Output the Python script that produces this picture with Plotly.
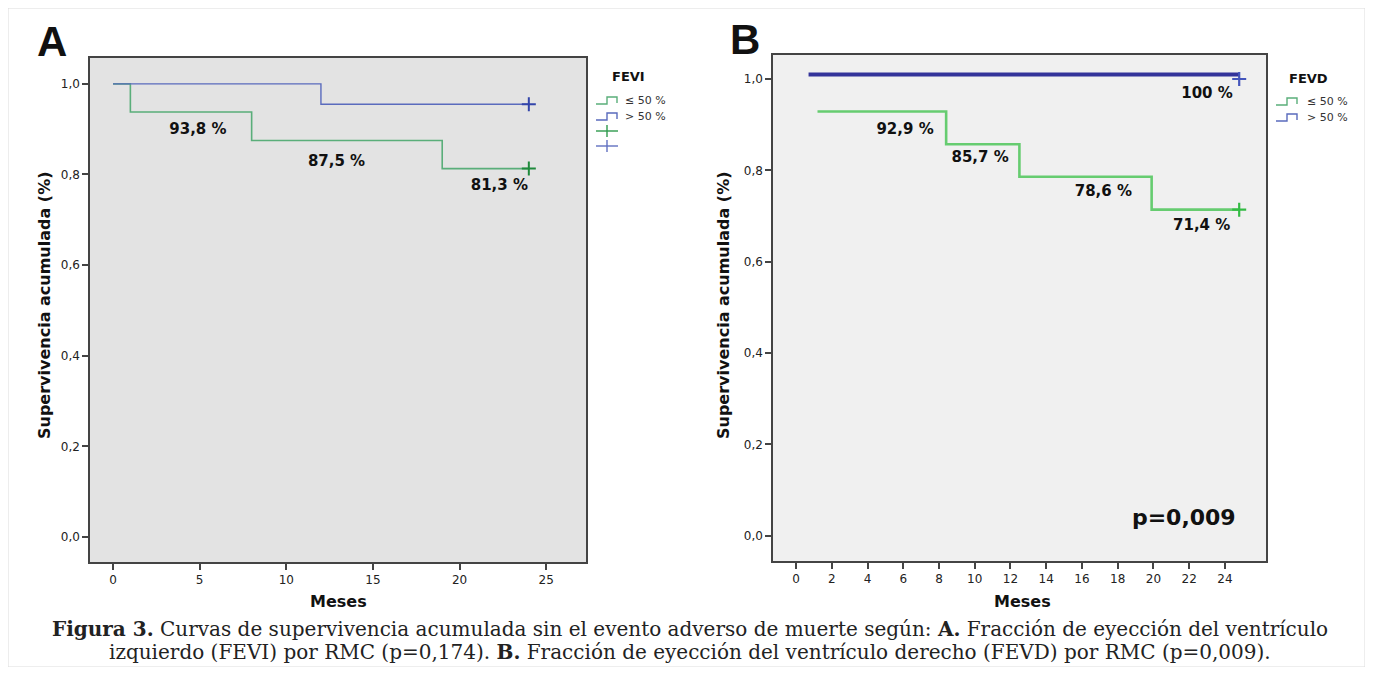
import plotly.graph_objects as go

OFF = 8
W, H = 1373 - 2 * OFF, 675 - 2 * OFF

# ---- Data: Panel A (FEVI) ----
a_green_x = [0, 1, 8, 19, 24]
a_green_y = [1.0, 0.938, 0.875, 0.813, 0.813]
a_blue_x = [0, 12, 24]
a_blue_y = [1.0, 0.955, 0.955]
a_labels = ["93,8 %", "87,5 %", "81,3 %"]
a_label_x = [4.9, 12.9, 22.3]
a_label_y = [0.898, 0.828, 0.775]

# ---- Data: Panel B (FEVD) ----
b_green_x = [1.2, 8.4, 12.5, 19.9, 24.8]
b_green_y = [0.929, 0.857, 0.786, 0.714, 0.714]
b_blue_x = [0.7, 24.8]
b_blue_y = [1.01, 1.01]
b_labels = ["100 %", "92,9 %", "85,7 %", "78,6 %", "71,4 %"]
b_label_x = [23.0, 6.1, 10.3, 17.2, 22.7]
b_label_y = [0.967, 0.888, 0.827, 0.753, 0.678]

y_ticks = [0.0, 0.2, 0.4, 0.6, 0.8, 1.0]
y_ticktext = ["0,0", "0,2", "0,4", "0,6", "0,8", "1,0"]
a_xticks = [0, 5, 10, 15, 20, 25]
b_xticks = list(range(0, 25, 2))


def px_x(p):
    return (p - OFF) / W


def px_y(p):
    return 1 - (p - OFF) / H


fig = go.Figure()

GREEN_A, BLUE_A = "#5aae7a", "#5a6bbd"
GREEN_B, BLUE_B = "#66cc70", "#33339a"

fig.add_trace(go.Scatter(x=a_green_x, y=a_green_y, mode="lines", line=dict(color=GREEN_A, width=1.6, shape="hv"),
                         xaxis="x", yaxis="y", showlegend=False, hoverinfo="skip"))
fig.add_trace(go.Scatter(x=a_blue_x, y=a_blue_y, mode="lines", line=dict(color=BLUE_A, width=1.4, shape="hv"),
                         xaxis="x", yaxis="y", showlegend=False, hoverinfo="skip"))
fig.add_trace(go.Scatter(x=[a_green_x[-1]], y=[a_green_y[-1]], mode="markers",
                         marker=dict(symbol="cross-thin", size=10, line=dict(color="#1f8a3c", width=2)),
                         xaxis="x", yaxis="y", showlegend=False))
fig.add_trace(go.Scatter(x=[a_blue_x[-1]], y=[a_blue_y[-1]], mode="markers",
                         marker=dict(symbol="cross-thin", size=10, line=dict(color="#3345aa", width=2)),
                         xaxis="x", yaxis="y", showlegend=False))
fig.add_trace(go.Scatter(x=a_label_x, y=a_label_y, mode="text", text=[f"<b>{t}</b>" for t in a_labels],
                         textfont=dict(family="DejaVu Sans", size=15, color="#111"),
                         xaxis="x", yaxis="y", showlegend=False))

fig.add_trace(go.Scatter(x=b_green_x, y=b_green_y, mode="lines", line=dict(color=GREEN_B, width=2.6, shape="hv"),
                         xaxis="x2", yaxis="y2", showlegend=False, hoverinfo="skip"))
fig.add_trace(go.Scatter(x=b_blue_x, y=b_blue_y, mode="lines", line=dict(color=BLUE_B, width=4, shape="hv"),
                         xaxis="x2", yaxis="y2", showlegend=False, hoverinfo="skip"))
fig.add_trace(go.Scatter(x=[b_green_x[-1]], y=[b_green_y[-1]], mode="markers",
                         marker=dict(symbol="cross-thin", size=10, line=dict(color="#33bb44", width=2.2)),
                         xaxis="x2", yaxis="y2", showlegend=False))
fig.add_trace(go.Scatter(x=[b_blue_x[-1]], y=[1.0], mode="markers",
                         marker=dict(symbol="cross-thin", size=10, line=dict(color="#4455bb", width=2.2)),
                         xaxis="x2", yaxis="y2", showlegend=False))
fig.add_trace(go.Scatter(x=b_label_x, y=b_label_y, mode="text", text=[f"<b>{t}</b>" for t in b_labels],
                         textfont=dict(family="DejaVu Sans", size=15, color="#111"),
                         xaxis="x2", yaxis="y2", showlegend=False))
fig.add_trace(go.Scatter(x=[21.7], y=[0.035], mode="text", text=["<b>p=0,009</b>"],
                         textfont=dict(family="DejaVu Sans", size=22, color="#111"),
                         xaxis="x2", yaxis="y2", showlegend=False))

axis_common = dict(showgrid=False, zeroline=False, showline=True, mirror=True, linecolor="#444", linewidth=1.5,
                   ticks="outside", ticklen=6, tickwidth=1.5, tickcolor="#444",
                   tickfont=dict(family="DejaVu Sans", size=12, color="#222"))

fig.update_layout(
    width=W, height=H, margin=dict(l=0, r=0, t=0, b=0),
    paper_bgcolor="white", plot_bgcolor="#e3e3e3",
    xaxis=dict(domain=[px_x(90), px_x(586)], range=[-1.33, 27.3], tickvals=a_xticks,
               ticktext=[str(v) for v in a_xticks], anchor="y", **axis_common),
    yaxis=dict(domain=[px_y(562), px_y(58)], range=[-0.055, 1.057], tickvals=y_ticks,
               ticktext=y_ticktext, anchor="x", **axis_common),
    xaxis2=dict(domain=[px_x(773), px_x(1266)], range=[-1.29, 26.3], tickvals=b_xticks,
                ticktext=[str(v) for v in b_xticks], anchor="y2", **axis_common),
    yaxis2=dict(domain=[px_y(561), px_y(55)], range=[-0.055, 1.0525], tickvals=y_ticks,
                ticktext=y_ticktext, anchor="x2", **axis_common),
)

# panel B background (lighter)
fig.add_shape(type="rect", xref="x2 domain", yref="y2 domain", x0=0, x1=1, y0=0, y1=1,
              fillcolor="#f0f0f0", line=dict(width=0), layer="below")

ann = []


def add_text(x, y, text, size, bold=False, family="DejaVu Sans", color="#111", angle=0, xanchor="center"):
    ann.append(dict(x=px_x(x), y=px_y(y), xref="paper", yref="paper", text=(f"<b>{text}</b>" if bold else text),
                    showarrow=False, font=dict(family=family, size=size, color=color), textangle=angle,
                    xanchor=xanchor, yanchor="middle"))


add_text(52, 42, "A", 42, bold=True, family="Liberation Sans")
add_text(745, 40, "B", 42, bold=True, family="Liberation Sans")
add_text(45, 305, "Supervivencia acumulada (%)", 16, bold=True, angle=-90)
add_text(724, 305, "Supervivencia acumulada (%)", 16, bold=True, angle=-90)
add_text(338, 601, "Meses", 16, bold=True)
add_text(1022, 601, "Meses", 16, bold=True)

# legends
add_text(628, 76, "FEVI", 13, bold=True)
add_text(623, 100, "≤ 50 %", 11, color="#333", xanchor="left")
add_text(623, 116, "> 50 %", 11, color="#333", xanchor="left")
add_text(1308, 78, "FEVD", 13, bold=True)
add_text(1305, 101, "≤ 50 %", 11, color="#333", xanchor="left")
add_text(1305, 117, "> 50 %", 11, color="#333", xanchor="left")

# caption
add_text(690, 629, "<b>Figura 3.</b> Curvas de supervivencia acumulada sin el evento adverso de muerte según: "
         "<b>A.</b> Fracción de eyección del ventrículo", 20, family="DejaVu Serif", color="#222")
add_text(690, 652, "izquierdo (FEVI) por RMC (p=0,174). <b>B.</b> Fracción de eyección del ventrículo derecho "
         "(FEVD) por RMC (p=0,009).", 20, family="DejaVu Serif", color="#222")

fig.update_layout(annotations=ann)


def step_icon(x0, y, color, w=1.4):
    xs = [x0, x0 + 11, x0 + 11, x0 + 21, x0 + 21]
    ys = [y + 4, y + 4, y - 3, y - 3, y + 3]
    path = "M " + " L ".join(f"{px_x(a)},{px_y(b)}" for a, b in zip(xs, ys))
    fig.add_shape(type="path", xref="paper", yref="paper", path=path, line=dict(color=color, width=w))


def cross_icon(x0, y, color):
    fig.add_shape(type="line", xref="paper", yref="paper", x0=px_x(x0), x1=px_x(x0 + 22), y0=px_y(y), y1=px_y(y),
                  line=dict(color=color, width=1.4))
    fig.add_shape(type="line", xref="paper", yref="paper", x0=px_x(x0 + 11), x1=px_x(x0 + 11), y0=px_y(y - 6),
                  y1=px_y(y + 6), line=dict(color=color, width=1.4))


step_icon(596, 100, GREEN_A)
step_icon(596, 116, BLUE_A)
cross_icon(596, 131, "#2e9a4c")
cross_icon(596, 146, "#6070c0")
step_icon(1276, 101, GREEN_A)
step_icon(1276, 117, BLUE_A)

# outer frame
fig.add_shape(type="rect", xref="paper", yref="paper", x0=0, x1=1, y0=0, y1=1,
              line=dict(color="#dcdcdc", width=1))

fig.write_html("out.html")
